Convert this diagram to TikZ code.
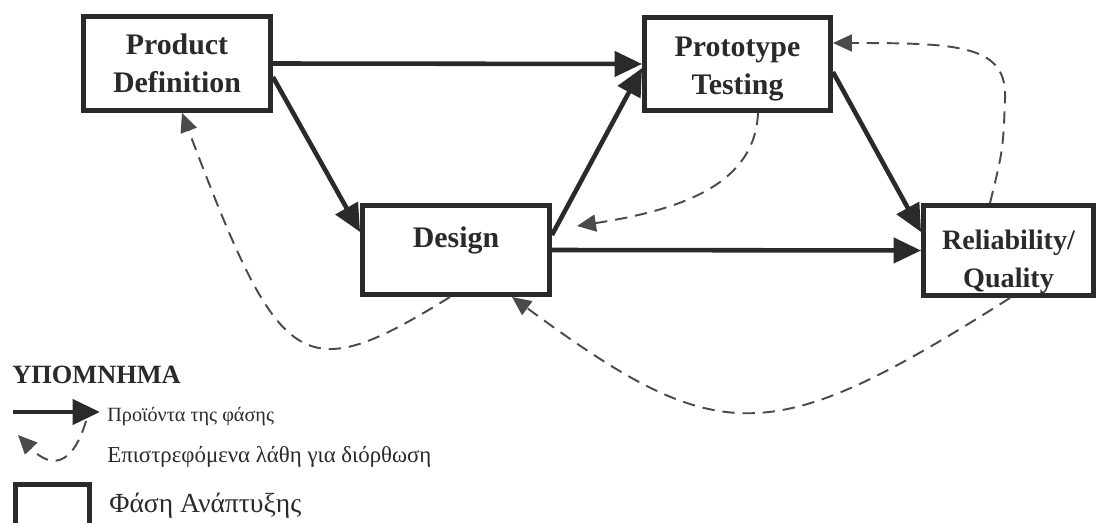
\documentclass[tikz,border=0pt]{standalone}
\usepackage{fontspec}
\setmainfont{Liberation Serif}
\usetikzlibrary{arrows.meta}
\definecolor{inchiostro}{HTML}{2A2A2A}

\begin{document}
\begin{tikzpicture}[x=0.02cm, y=-0.02cm,
    fase/.style={draw=inchiostro, line width=2.8pt, align=center, inner sep=0pt,
      text=inchiostro, font=\fontsize{17}{21.5}\selectfont\bfseries},
    prodotto/.style={draw=inchiostro, line width=2.6pt,
      -{Triangle[length=0.55cm,width=0.5cm]}},
    errore/.style={draw=inchiostro!85, line width=1.1pt, dash pattern=on 7pt off 4.5pt,
      -{Triangle[length=0.38cm,width=0.34cm]}},
    voce/.style={anchor=base west, inner sep=0pt, text=inchiostro}]
    \useasboundingbox (0,0) rectangle (1101,523);

    % Fasi di sviluppo
    \node[fase, minimum width=3.74cm, minimum height=1.88cm] (pd) at (177,63.5) {Product\\Definition};
    \node[fase, minimum width=3.72cm, minimum height=1.86cm, text height=1.34cm] (pt) at (737.5,64) {Prototype\\Testing};
    \node[fase, minimum width=3.74cm, minimum height=1.78cm, text depth=0.52cm] (des) at (456,250) {Design};
    \node[fase, minimum width=3.40cm, minimum height=1.80cm, text height=1.6cm,
      font=\fontsize{16}{21.5}\selectfont\bfseries] (rq) at (1008.5,250.5) {Reliability/\\Quality};

    % Prodotti delle fasi
    \draw[prodotto] (pd.east) -- (pt.west);
    \draw[prodotto] ([yshift=-0.27cm]pd.east) -- ([yshift=0.36cm]des.west);
    \draw[prodotto] ([yshift=0.3cm]des.east) -- ([yshift=-0.08cm]pt.west);
    \draw[prodotto] (des.east) -- (rq.west);
    \draw[prodotto] ([yshift=-0.16cm]pt.east) -- ([yshift=0.37cm]rq.west);

    % Errori rimandati indietro
    \coordinate (ritorno) at ([xshift=0.5cm,yshift=0.48cm]des.east);
    \draw[errore] ([xshift=0.41cm]pt.south) .. controls (755,185) and (680,210) .. (ritorno);
    \draw[errore] ([xshift=-0.37cm]rq.north) .. controls (1003,150) .. (1005,100)
        .. controls (1008,45) and (960,43) .. ([yshift=0.42cm]pt.east);
    \draw[errore] ([xshift=0.03cm]rq.south) .. controls (770,450) and (720,450) .. ([xshift=1.12cm]des.south);
    \draw[errore] ([xshift=-0.12cm]des.south) .. controls (300,390) and (280,372) .. ([xshift=0.1cm]pd.south);

    % Legenda
    \node[voce, font=\fontsize{15}{18}\selectfont\bfseries] (titolo) at (12,383) {ΥΠΟΜΝΗΜΑ};
    \coordinate (p1) at (13,412);
    \coordinate (p2) at (100,412);
    \draw[prodotto] (p1) -- (p2);
    \node[voce, font=\fontsize{11.5}{14}\selectfont] (v1) at (107,421) {Προϊόντα της φάσης};
    \coordinate (e1) at (86,421);
    \coordinate (e2) at (18,435);
    \draw[errore] (e1) .. controls (72,468) and (50,468) .. (e2);
    \node[voce, font=\fontsize{13}{16}\selectfont] (v2) at (107,462) {Επιστρεφόμενα λάθη για διόρθωση};
    \draw[inchiostro, line width=2.8pt] (15.5,540) -- (15.5,484.5) -- (89.5,484.5) -- (89.5,540);
    \node[voce, font=\fontsize{15.7}{18}\selectfont] (v3) at (109,512) {Φάση Ανάπτυξης};
\end{tikzpicture}
\end{document}
